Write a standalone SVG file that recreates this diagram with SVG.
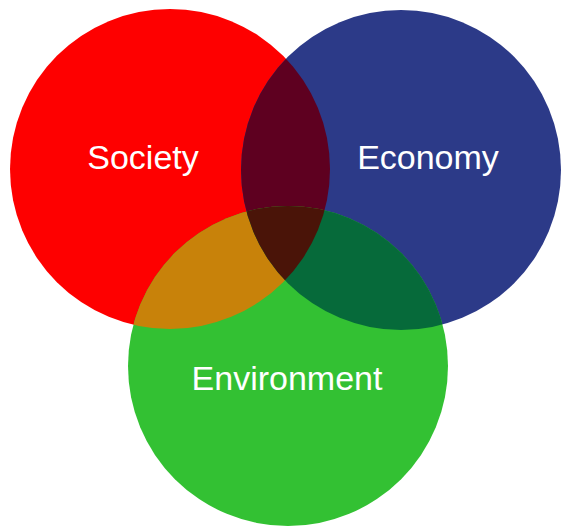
<svg xmlns="http://www.w3.org/2000/svg" width="562" height="528" viewBox="0 0 562 528">
  <style>
    .lbl { font-family: "Liberation Sans", Arial, sans-serif; font-size: 34px; fill: #ffffff; text-anchor: middle; }
  </style>
  <defs>
    <clipPath id="cS"><circle cx="170" cy="169" r="160"/></clipPath>
    <clipPath id="cE"><circle cx="401" cy="170" r="160"/></clipPath>
    <clipPath id="cG"><circle cx="288" cy="366" r="160"/></clipPath>
  </defs>
  <rect width="562" height="528" fill="#ffffff"/>
  <g id="society">
    <circle cx="170" cy="169" r="160" fill="#fe0000"/>
  </g>
  <g id="economy">
    <circle cx="401" cy="170" r="160" fill="#2c3a88"/>
  </g>
  <g id="environment">
    <circle cx="288" cy="366" r="160" fill="#33c133"/>
  </g>
  <g id="overlaps">
    <g clip-path="url(#cS)"><circle cx="401" cy="170" r="160" fill="#5e0020"/></g>
    <g clip-path="url(#cS)"><circle cx="288" cy="366" r="160" fill="#c8820a"/></g>
    <g clip-path="url(#cE)"><circle cx="288" cy="366" r="160" fill="#066a3a"/></g>
    <g clip-path="url(#cS)"><g clip-path="url(#cE)"><circle cx="288" cy="366" r="160" fill="#4a1408"/></g></g>
  </g>
  <g id="labels">
    <text class="lbl" x="143" y="169">Society</text>
    <text class="lbl" x="428" y="169">Economy</text>
    <text class="lbl" x="287" y="390">Environment</text>
  </g>
</svg>
